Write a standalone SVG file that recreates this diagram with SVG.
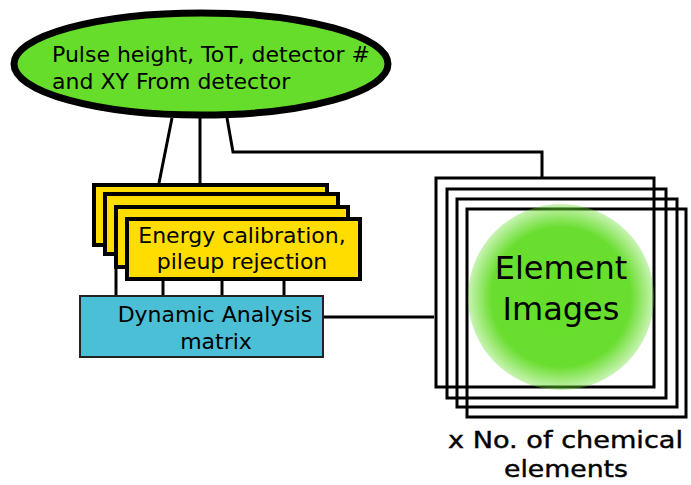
<svg xmlns="http://www.w3.org/2000/svg" width="691" height="485" viewBox="0 0 691 485">
<style>
text{font-family:"DejaVu Sans",sans-serif;fill:#000}
.c{fill:none;stroke:#000;stroke-width:3}
.y{fill:#ffdd00;stroke:#000;stroke-width:4}
.f{fill:none;stroke:#000;stroke-width:3}
</style>
<defs>
<radialGradient id="g" cx="0.5" cy="0.5" r="0.5">
<stop offset="0" stop-color="#66dd2a"/>
<stop offset="0.75" stop-color="#6ade30"/>
<stop offset="1" stop-color="#66dd2a" stop-opacity="0.35"/>
</radialGradient>
</defs>
<g id="connectors">
<path class="c" d="M172,118 L159,183"/>
<path class="c" d="M200,118 L200,183"/>
<path class="c" d="M227,118 L233,152 L542,152 L542,178"/>
<path class="c" d="M116,267 L116,296"/>
<path class="c" d="M163,279 L163,296" stroke="#444"/>
<path class="c" d="M222,279 L222,296"/>
<path class="c" d="M284,279 L284,296" stroke="#444"/>
<path class="c" d="M323,317 L434,317"/>
</g>
<g id="source">
<ellipse cx="201" cy="64" rx="187" ry="51" fill="#66dd2a" stroke="#000" stroke-width="7"/>
<text x="52" y="61.5" font-size="22">Pulse height, ToT, detector #</text>
<text x="52" y="88.5" font-size="22">and XY From detector</text>
</g>
<g id="calibration">
<rect class="y" x="94" y="185" width="233" height="60"/>
<rect class="y" x="105" y="194" width="233" height="60"/>
<rect class="y" x="116" y="207" width="232" height="60"/>
<rect class="y" x="127" y="219" width="233" height="60"/>
<text x="242" y="243" font-size="22" text-anchor="middle">Energy calibration,</text>
<text x="242" y="269" font-size="22" text-anchor="middle">pileup rejection</text>
</g>
<g id="matrix">
<rect x="80" y="296" width="243" height="61" fill="#4bbfd6" stroke="#222" stroke-width="2"/>
<text x="215" y="322" font-size="22" text-anchor="middle">Dynamic Analysis</text>
<text x="216" y="349" font-size="22" text-anchor="middle">matrix</text>
</g>
<g id="images">
<rect class="f" x="436" y="178" width="218" height="209"/>
<rect class="f" x="447" y="189" width="219" height="209"/>
<rect class="f" x="457" y="199" width="220" height="208"/>
<rect class="f" x="467" y="209" width="219" height="208"/>
<circle cx="561" cy="297" r="93" fill="url(#g)"/>
<text x="561" y="279" font-size="32" text-anchor="middle">Element</text>
<text x="561" y="320" font-size="32" text-anchor="middle">Images</text>
</g>
<g id="caption">
<text x="448" y="448" font-size="23" textLength="235" lengthAdjust="spacingAndGlyphs" stroke="#000" stroke-width="0.4">x No. of chemical</text>
<text x="504" y="477" font-size="23" textLength="124" lengthAdjust="spacingAndGlyphs" stroke="#000" stroke-width="0.4">elements</text>
</g>
</svg>
